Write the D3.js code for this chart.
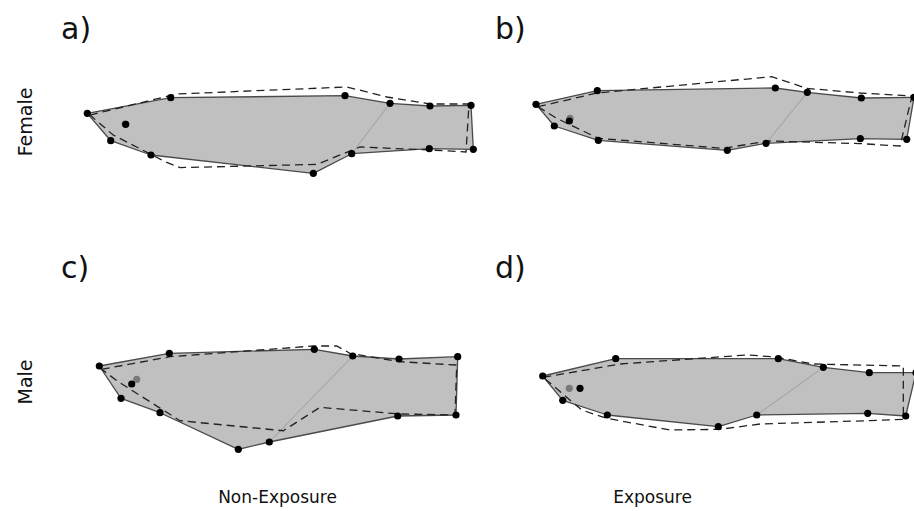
<!DOCTYPE html>
<html>
<head>
<meta charset="utf-8">
<script src="https://cdn.jsdelivr.net/npm/d3@7"></script>
<style>
  html, body { margin: 0; padding: 0; background: #fff; }
  svg { display: block; font-family: "DejaVu Sans", Verdana, sans-serif; }
</style>
</head>
<body>
<svg id="chart" width="914" height="511"></svg>
<script>
// ---- Data: landmark coordinates (shape units) per panel ----
const panelLabels = ["a)", "b)", "c)", "d)"];
const rowLabels = ["Female", "Male"];
const colLabels = ["Non-Exposure", "Exposure"];

// a) Female, Non-Exposure
const femaleNonExp = [[1.83,8.33],[22.68,4.43],[66.25,3.93],[77.5,5.83],[87.5,6.5],[97.75,6.33],[98.33,17.33],[87.33,17.18],[67.93,18.43],[58.33,23.33],[17.75,18.75],[7.68,15.18]];
const femaleNonExpRef = [[2.5,8.75],[24.2,3.5],[66.75,1.75],[76.75,4.25],[87.5,6.0],[97.25,6.0],[96.5,18.0],[87.5,17.5],[70.0,16.75],[59.2,21.1],[25.0,21.9],[21.25,20.4],[8.3,13.75]];
const femaleNonExpEye = [[11.3,11.0],[11.43,11.08]];

// b) Female, Exposure
const femaleExp = [[1.5,6.08],[16.83,2.68],[61.33,2.0],[69.33,3.08],[82.83,4.5],[96.0,4.33],[94.18,14.83],[82.58,14.68],[59.0,15.83],[49.33,17.58],[17.08,15.08],[6.08,11.5]];
const femaleExpRef = [[2.0,6.68],[16.75,3.25],[60.43,-0.83],[69.18,2.08],[82.5,3.25],[95.5,4.0],[92.5,16.5],[82.5,15.9],[59.6,15.25],[48.3,17.08],[17.08,14.58],[6.5,9.5]];
const femaleExpEye = [[10.0,9.58],[9.83,10.25]];

// c) Male, Non-Exposure
const maleNonExp = [[4.83,6.5],[22.33,3.33],[58.58,2.33],[68.18,4.0],[79.75,4.75],[94.43,4.18],[94.0,18.75],[79.43,19.0],[47.33,25.5],[39.58,27.33],[20.0,18.18],[10.25,14.58]];
const maleNonExpRef = [[5.43,7.33],[22.5,4.18],[58.33,1.5],[64.18,1.5],[67.5,3.33],[80.0,5.43],[94.18,6.25],[93.75,18.75],[80.0,18.5],[60.0,16.83],[50.83,22.68],[25.0,20.18],[9.58,10.43]];
const maleNonExpEye = [[14.18,9.83],[12.93,11.0]];

// d) Male, Exposure
const maleExp = [[3.18,9.0],[21.43,4.68],[62.08,4.68],[73.33,6.83],[84.83,8.18],[96.5,8.18],[93.93,19.0],[84.43,18.33],[56.68,18.75],[47.08,21.68],[19.33,18.75],[8.18,15.08]];
const maleExpRef = [[3.33,9.33],[22.5,6.0],[54.18,3.75],[60.83,4.18],[70.83,6.0],[93.33,6.5],[93.33,19.83],[84.18,20.18],[57.5,21.0],[47.5,22.33],[35.0,22.5],[19.18,19.58],[12.93,17.5]];
const maleExpEye = [[9.83,12.08],[12.5,12.08]];

// landmark pair joined by the inner grey line
const innerLink = [3, 8];

// ---- Layout ----
const svg = d3.select("#chart");
const UNIT = 4; // px per shape unit
const panels = [
  { label: panelLabels[0], shape: femaleNonExp, ref: femaleNonExpRef, eye: femaleNonExpEye, x0: 80,  y0: 80,  lx: 61,  ly: 39 },
  { label: panelLabels[1], shape: femaleExp,    ref: femaleExpRef,    eye: femaleExpEye,    x0: 530, y0: 80,  lx: 495, ly: 39 },
  { label: panelLabels[2], shape: maleNonExp,   ref: maleNonExpRef,   eye: maleNonExpEye,   x0: 80,  y0: 340, lx: 61,  ly: 278 },
  { label: panelLabels[3], shape: maleExp,      ref: maleExpRef,      eye: maleExpEye,      x0: 530, y0: 340, lx: 495, ly: 278 }
];

panels.forEach(p => {
  const x = d3.scaleLinear().domain([0, 100]).range([p.x0, p.x0 + 100 * UNIT]);
  const y = d3.scaleLinear().domain([0, 30]).range([p.y0, p.y0 + 30 * UNIT]);
  const line = d3.line().x(d => x(d[0])).y(d => y(d[1])).curve(d3.curveLinearClosed);
  const g = svg.append("g");

  g.append("path").attr("d", line(p.shape))
    .attr("fill", "#c0c0c0").attr("stroke", "none");

  g.append("line")
    .attr("x1", x(p.shape[innerLink[0]][0])).attr("y1", y(p.shape[innerLink[0]][1]))
    .attr("x2", x(p.shape[innerLink[1]][0])).attr("y2", y(p.shape[innerLink[1]][1]))
    .attr("stroke", "#9a9a9a").attr("stroke-width", 0.9);

  g.append("path").attr("d", line(p.shape))
    .attr("fill", "none").attr("stroke", "#4a4a4a").attr("stroke-width", 1.3)
    .attr("stroke-linejoin", "round");

  g.append("path").attr("d", line(p.ref))
    .attr("fill", "none").attr("stroke", "#222").attr("stroke-width", 1.3)
    .attr("stroke-dasharray", "8,5");

  // eye: grey (reference) then black
  g.append("circle").attr("cx", x(p.eye[0][0])).attr("cy", y(p.eye[0][1])).attr("r", 3.6)
    .attr("fill", "#7a7a7a");
  g.append("circle").attr("cx", x(p.eye[1][0])).attr("cy", y(p.eye[1][1])).attr("r", 3.6)
    .attr("fill", "#000");

  g.selectAll("circle.lm").data(p.shape).enter().append("circle")
    .attr("class", "lm")
    .attr("cx", d => x(d[0])).attr("cy", d => y(d[1])).attr("r", 3.6)
    .attr("fill", "#000");

  svg.append("text").attr("x", p.lx).attr("y", p.ly)
    .attr("font-size", 30).attr("fill", "#111").text(p.label);
});

// Row labels
[[rowLabels[0], 122], [rowLabels[1], 382]].forEach(([t, cy]) => {
  svg.append("text")
    .attr("transform", `translate(32,${cy}) rotate(-90)`)
    .attr("text-anchor", "middle").attr("font-size", 19).attr("fill", "#111")
    .text(t);
});

// Column labels
[[colLabels[0], 277.5], [colLabels[1], 652.5]].forEach(([t, cx]) => {
  svg.append("text").attr("x", cx).attr("y", 503)
    .attr("text-anchor", "middle").attr("font-size", 17).attr("fill", "#111")
    .text(t);
});
</script>
</body>
</html>
